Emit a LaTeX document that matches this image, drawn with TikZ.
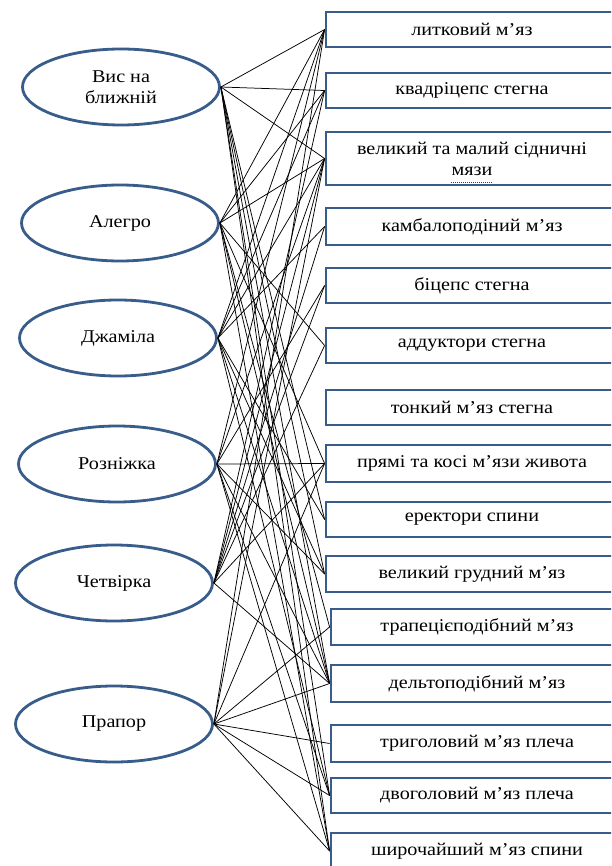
\documentclass[tikz,border=0pt]{standalone}
\usepackage{fontspec}
\setmainfont{Liberation Serif}[FakeStretch=1.12]
\usetikzlibrary{shapes.geometric}
\definecolor{outl}{RGB}{56,93,138}
\begin{document}
\begin{tikzpicture}[x=1pt,y=-1pt,
  elem/.style={ellipse, draw=outl, line width=2.8pt, minimum width=197pt, minimum height=76pt, inner sep=0pt, font=\fontsize{18}{20.5}\selectfont, align=center},
  musc/.style={rectangle, draw=outl, line width=2.8pt, minimum width=292pt, inner sep=0pt, font=\fontsize{18}{21}\selectfont, align=center},
  link/.style={draw=black, line width=0.75pt}]
\useasboundingbox (0,0) rectangle (611,866);
\clip (0,0) rectangle (611,866);
\fill[white] (0,0) rectangle (611,866);

\node[elem] (e1) at (121,87) {Вис на\\ближній};
\node[elem] (e2) at (120,223) {Алегро};
\node[elem] (e3) at (118,338) {Джаміла};
\node[elem] (e4) at (117,464) {Розніжка};
\node[elem] (e5) at (114,583) {Четвірка};
\node[elem] (e6) at (114,724) {Прапор};

\node[musc, minimum height=35pt] (t1) at (472,29.5) {литковий м’яз};
\node[musc, minimum height=35pt] (t2) at (472,90.5) {квадріцепс стегна};
\node[musc, minimum height=53pt] (t3) at (472,158.5) {великий та малий сідничні\\мязи};
\node[musc, minimum height=37pt] (t4) at (472,226.5) {камбалоподіний м’яз};
\node[musc, minimum height=35pt] (t5) at (472,285.5) {біцепс стегна};
\node[musc, minimum height=35pt] (t6) at (472,345.5) {аддуктори стегна};
\node[musc, minimum height=35pt] (t7) at (472,407.5) {тонкий м’яз стегна};
\node[musc, minimum height=37pt] (t8) at (472,463.5) {прямі та косі м’язи живота};
\node[musc, minimum height=35pt] (t9) at (472,519.5) {еректори спини};
\node[musc, minimum height=36pt] (t10) at (472,574) {великий грудний м’яз};
\node[musc, minimum height=36pt] (t11) at (477,627) {трапецієподібний м’яз};
\node[musc, minimum height=37pt] (t12) at (477,683.5) {дельтоподібний м’яз};
\node[musc, minimum height=37pt] (t13) at (477,743.5) {триголовий м’яз плеча};
\node[musc, minimum height=35pt] (t14) at (477,795.5) {двоголовий м’яз плеча};
\node[musc, minimum height=36pt] (t15) at (477,851) {широчайший м’яз спини};

\draw[red!85!black, dash pattern=on 1pt off 1pt, line width=0.9pt] (t3.center) ++(-21,23.5) -- ++(42,0);

\foreach \t in {1,2,3,9,10,12,14,15} \draw[link] (e1.east) -- (t\t.west);
\foreach \t in {1,2,3,6,8,11,12,15} \draw[link] (e2.east) -- (t\t.west);
\foreach \t in {1,2,3,4,9,10,12,14} \draw[link] (e3.east) -- (t\t.west);
\foreach \t in {1,3,5,8,10,12,14,15} \draw[link] (e4.east) -- (t\t.west);
\foreach \t in {2,3,4,5,6,8,12} \draw[link] (e5.east) -- (t\t.west);
\foreach \t in {1,3,8,11,12,13,14,15} \draw[link] (e6.east) -- (t\t.west);
\end{tikzpicture}
\end{document}
